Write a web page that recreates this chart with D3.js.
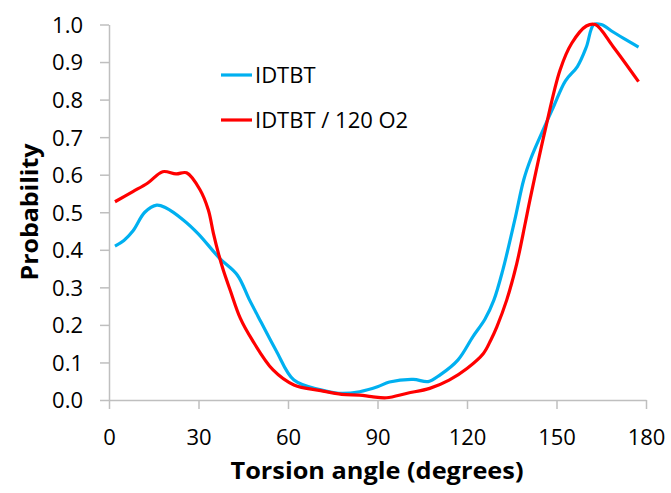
<!DOCTYPE html>
<html>
<head>
<meta charset="utf-8">
<script src="https://cdn.jsdelivr.net/npm/d3@7"></script>
<style>
  body { margin: 0; background: white; }
</style>
</head>
<body>
<div id="vis"></div>
<script>
var width = 671;
var height = 493;

// data
var idtbtAngle = [2, 5, 8, 12, 16, 19, 25, 30, 37, 43, 47, 51, 56, 62, 71, 77, 84, 90, 94, 102, 107, 111, 117, 122, 126, 129, 132, 136, 139, 141.5, 145, 149, 153, 157, 160, 162.5, 165, 169, 172.5, 177.5];
var idtbtProb  = [0.41, 0.425, 0.45, 0.50, 0.519, 0.512, 0.479, 0.442, 0.378, 0.333, 0.268, 0.207, 0.132, 0.053, 0.027, 0.018, 0.022, 0.035, 0.048, 0.055, 0.049, 0.067, 0.107, 0.169, 0.215, 0.266, 0.346, 0.479, 0.586, 0.645, 0.71, 0.781, 0.85, 0.888, 0.94, 1.0, 1.0, 0.98, 0.963, 0.94];

var o2Angle = [2, 8, 13, 18, 22.5, 26, 30.5, 33.3, 35, 36.7, 38.3, 40.6, 44, 48, 55, 62, 71, 78, 84, 88, 93, 100, 107.5, 114, 120, 125.5, 128, 130, 133.3, 136.7, 139.5, 141.1, 146.2, 151.2, 155.1, 160, 163, 169, 177.5];
var o2Prob  = [0.528, 0.555, 0.578, 0.608, 0.602, 0.605, 0.56, 0.506, 0.444, 0.39, 0.346, 0.293, 0.218, 0.16, 0.08, 0.04, 0.025, 0.015, 0.013, 0.009, 0.006, 0.018, 0.031, 0.053, 0.084, 0.124, 0.16, 0.195, 0.266, 0.364, 0.47, 0.533, 0.719, 0.879, 0.95, 0.996, 1.0, 0.941, 0.848];

var xTicks = [0, 30, 60, 90, 120, 150, 180];
var yTicks = [0, 0.1, 0.2, 0.3, 0.4, 0.5, 0.6, 0.7, 0.8, 0.9, 1.0];
var seriesNames = ["IDTBT", "IDTBT / 120 O2"];
var seriesColors = ["#00b0f0", "#ff0000"];

var svg = d3.select("#vis")
  .append("svg")
  .attr("width", width)
  .attr("height", height)
  .style("background-color", "white");

var xScale = d3.scaleLinear().domain([0, 180]).range([109, 646]);
var yScale = d3.scaleLinear().domain([0, 1]).range([400, 24.5]);

var font = "'Open Sans', sans-serif";
var axisColor = "#bfbfbf";

// y axis
var yAxis = svg.append("g")
  .attr("transform", "translate(109,0)")
  .call(d3.axisLeft(yScale).tickValues(yTicks).tickFormat(d3.format(".1f")).tickSize(9).tickSizeOuter(0).tickPadding(17));

// x axis
var xAxis = svg.append("g")
  .attr("transform", "translate(0,400)")
  .call(d3.axisBottom(xScale).tickValues(xTicks).tickSize(9).tickSizeOuter(0).tickPadding(20));

[xAxis, yAxis].forEach(a => {
  a.select(".domain").style("stroke", axisColor).style("stroke-width", 1.5);
  a.selectAll(".tick line").style("stroke", axisColor).style("stroke-width", 1.5);
  a.selectAll("text")
    .style("font-family", font)
    .style("font-size", "22px")
    .style("fill", "#000");
});
yAxis.selectAll("text").attr("dy", "0.36em");

// lines
var line = d3.line()
  .x(d => xScale(d[0]))
  .y(d => yScale(d[1]))
  .curve(d3.curveCatmullRom.alpha(0.5));

var series = [
  d3.zip(idtbtAngle, idtbtProb),
  d3.zip(o2Angle, o2Prob)
];

svg.selectAll(".series")
  .data(series)
  .join("path")
  .attr("class", "series")
  .attr("d", d => line(d))
  .attr("fill", "none")
  .attr("stroke", (d, i) => seriesColors[i])
  .attr("stroke-width", 3.2)
  .attr("stroke-linejoin", "round");

// legend
var legend = svg.selectAll(".legend")
  .data(seriesNames)
  .join("g")
  .attr("class", "legend")
  .attr("transform", (d, i) => `translate(221, ${75 + i * 45})`);

legend.append("line")
  .attr("x1", 0).attr("x2", 31)
  .attr("stroke", (d, i) => seriesColors[i])
  .attr("stroke-width", 3.2);

legend.append("text")
  .attr("x", 34)
  .attr("dy", "0.36em")
  .style("font-family", font)
  .style("font-size", "22px")
  .text(d => d);

// axis titles
svg.append("text")
  .attr("x", 377)
  .attr("y", 479)
  .attr("text-anchor", "middle")
  .attr("textLength", 293)
  .attr("lengthAdjust", "spacingAndGlyphs")
  .style("font-family", font)
  .style("font-weight", "bold")
  .style("font-size", "24px")
  .text("Torsion angle (degrees)");

svg.append("text")
  .attr("transform", "translate(38,212) rotate(-90)")
  .attr("text-anchor", "middle")
  .attr("textLength", 137)
  .attr("lengthAdjust", "spacingAndGlyphs")
  .style("font-family", font)
  .style("font-weight", "bold")
  .style("font-size", "24px")
  .text("Probability");
</script>
</body>
</html>
